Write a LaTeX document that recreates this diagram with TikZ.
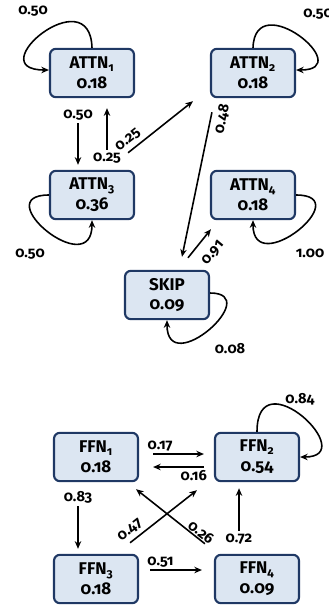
\documentclass[tikz,border=0pt]{standalone}
\usepackage{fontspec}
\setmainfont{Fira Sans}[Numbers=OldStyle]
\usetikzlibrary{arrows.meta,calc}
\definecolor{boxfill}{HTML}{DCE6F2}
\definecolor{boxline}{HTML}{1F3864}

\tikzset{
  op/.style={draw=boxline, fill=boxfill, line width=1.8pt, rounded corners=5pt,
      minimum width=2.52cm, minimum height=1.45cm, align=center,
      font=\fontsize{14.5}{17}\selectfont\bfseries},
  edge/.style={-{Stealth[length=6.5pt,width=5.5pt]}, line width=1.35pt},
  prob/.style={font=\fontsize{12.5}{14}\selectfont\bfseries, inner sep=2pt}
}

\begin{document}
\begin{tikzpicture}[x=0.03cm, y=0.03cm]
    \clip (0,0) rectangle (328,-608); % Frame

    % Attention Scope
    \begin{scope}
      \foreach \name/\x/\y/\txt in {attn1/92/73/{ATTN\textsubscript{1}\\0.18}, attn2/253/73/{ATTN\textsubscript{2}\\0.18},
          attn3/92/195/{ATTN\textsubscript{3}\\0.36}, attn4/253/195/{ATTN\textsubscript{4}\\0.18}, skip/167/295/{SKIP\\0.09}} {
          \node[op] (\name) at (\x,-\y) {\txt}; % Operations
        }
      \draw[edge] (attn1.north) .. controls +(-2,70) and +(-70,0) .. ($(attn1.west)+(0,3)$); % Self loops
      \draw[edge] (attn2.north) .. controls +(2,62) and +(62,0) .. ($(attn2.east)+(0,3)$);
      \draw[edge] (attn3.west) .. controls +(-62,0) and +(0,-62) .. (attn3.south);
      \draw[edge] (attn4.east) .. controls +(62,0) and +(0,-60) .. (attn4.south);
      \draw[edge] ($(skip.east)+(0,2)$) .. controls +(55,0) and +(0,-60) .. (skip.south);
      \node[prob] (pa1) at (33,-11) {0.50};
      \node[prob] (pa2) at (318,-14) {0.50};
      \node[prob] (pa3) at (30,-254) {0.50};
      \node[prob] (pa4) at (310,-253) {1.00};
      \node[prob] (ps) at (230,-349) {0.08};

      \draw[edge] ($(attn1.south)+(-14,-25)$) -- ($(attn3.north)+(-14,5)$) node[prob, pos=0, above] (p13) {0.50};
      \draw[edge] ($(attn3.north)+(15,20)$) -- ($(attn1.south)+(15,-10)$) node[prob, pos=0, below] (p31) {0.25};
      \draw[edge] ($(attn3.north east)+(-7,17)$) -- ($(attn2.south west)+(-17,-3)$);
      \draw[edge] ($(attn2.south west)+(2,-14)$) -- ($(skip.north)+(15,13)$);
      \draw[edge] ($(skip.north)+(21,12)$) -- ($(attn4.south west)+(1,-9)$);
      \node[prob, rotate=38] (p32) at (128,-140) {0.25}; % Slanted labels
      \node[prob, rotate=78] (p2s) at (222,-119) {0.48};
      \node[prob, rotate=50] (ps4) at (213,-253) {0.91};
    \end{scope}

    % FFN Scope
    \begin{scope}
      \foreach \name/\x/\y/\txt in {ffn1/96/457/{FFN\textsubscript{1}\\0.18}, ffn2/257/457/{FFN\textsubscript{2}\\0.54},
          ffn3/96/579/{FFN\textsubscript{3}\\0.18}, ffn4/257/579/{FFN\textsubscript{4}\\0.09}} {
          \node[op] (\name) at (\x,-\y) {\txt};
        }
      \draw[edge] (ffn2.north) .. controls +(0,75) and +(62,0) .. (ffn2.east); % Self loop
      \node[prob] (pf2) at (300,-399) {0.84};

      \draw[edge] ($(ffn1.east)+(14,3)$) -- ($(ffn2.west)+(-10,3)$) node[prob, pos=0.14, above] (p12) {0.17};
      \draw[edge] ($(ffn2.west)+(-10,-10)$) -- ($(ffn1.east)+(14,-10)$) node[prob, pos=0.2, below] (p21) {0.16};
      \draw[edge] ($(ffn1.south)+(-18,-24)$) -- ($(ffn3.north)+(-18,5)$) node[prob, pos=0, above] (pf13) {0.83};
      \draw[edge] ($(ffn3.north east)+(-9,11)$) -- ($(ffn2.south west)+(-17,-8)$);
      \draw[edge] ($(ffn4.north west)+(-9,10)$) -- ($(ffn1.south east)+(-3,-7)$);
      \draw[edge] ($(ffn4.north)+(-18,23)$) -- ($(ffn2.south)+(-18,-6)$) node[prob, pos=0, below] (pf42) {0.72};
      \draw[edge] ($(ffn3.east)+(11,9)$) -- ($(ffn4.west)+(-12,9)$) node[prob, pos=0.2, above] (pf34) {0.51};
      \node[prob, rotate=38] (pf32) at (130,-530) {0.47}; % Slanted labels
      \node[prob, rotate=-38] (pf41) at (201,-532) {0.26};
    \end{scope}
  \end{tikzpicture}
\end{document}
